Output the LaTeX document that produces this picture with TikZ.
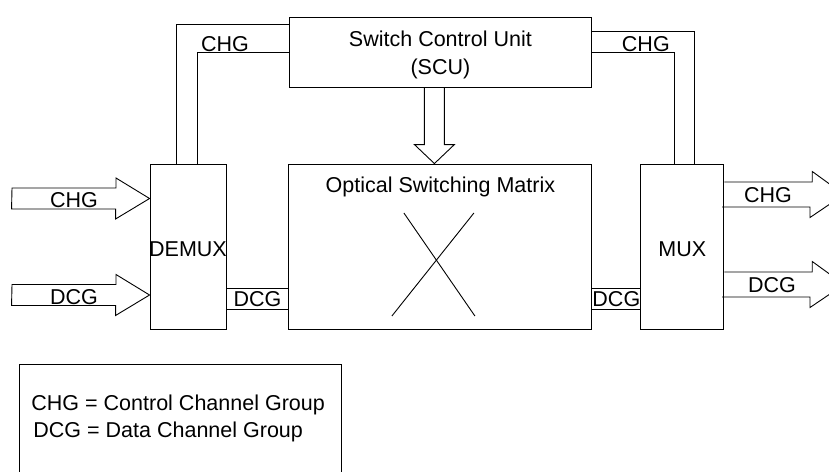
\documentclass[tikz,border=0pt]{standalone}
\usepackage{fontspec}
\setmainfont{Liberation Sans}
\usepackage{tikz}
\usetikzlibrary{positioning,calc}

\begin{document}
\begin{tikzpicture}[
  x=1pt, y=-1pt, line width=0.9pt,
  box/.style={draw, inner sep=0pt, minimum height=165pt, align=center, font=\fontsize{21.5}{28}\selectfont},
  lbl/.style={inner sep=0pt, align=center, font=\fontsize{21.5}{28}\selectfont},
]
  \useasboundingbox (0,0) rectangle (829,471);
  \clip (0,0) rectangle (829,471);
  \node[box, minimum width=76pt, label={[lbl, yshift=-3pt]center:DEMUX}] (demux) at (188,246.5) {};
  \node[box, minimum width=303pt, right=62pt of demux] (osm) {};
  \node[box, minimum width=83pt, right=48pt of osm, label={[lbl, yshift=-3pt]center:MUX}] (mux) {};
  \node[box, minimum width=302pt, minimum height=70pt, above=76pt of osm,
        label={[lbl, yshift=-3pt]center:Switch Control Unit\\(SCU)}] (scu) {};
  \node[lbl, below=13pt of osm.north] (osmtxt) {Optical Switching Matrix};
  \draw ($(osm.center)+(-36.5,-33.5)$) -- ($(osm.center)+(34.5,69.5)$);
  \draw ($(osm.center)+(33.5,-33.5)$) -- ($(osm.center)+(-48.5,69.5)$);

  \draw (scu.west) -| ($(demux.north west)+(48,0)$);
  \draw ($(scu.west)+(0,-28)$) -| ($(demux.north west)+(27,0)$);
  \draw (scu.east) -| ($(mux.north west)+(34,0)$);
  \draw ($(scu.east)+(0,-21)$) -| ($(mux.north west)+(54,0)$);
  \node[lbl, anchor=base] (chgl) at ($(scu.west)+(-64,-1)$) {CHG};
  \node[lbl, anchor=base] (chgr) at ($(scu.east)+(54,-1)$) {CHG};

  \coordinate (ctl) at ($(scu.south)+(-6,0)$);
  \draw (ctl) ++(-10,0) -- ++(0,57) -- ++(-10,0) -- (ctl |- osm.north) -- ++(20,-19) -- ++(-10,0) -- ++(0,-57);

  \coordinate (chgin) at (12,198.5);
  \coordinate (dcgin) at (12,295);
  \draw (chgin) ++(0,-10.5) -- ++(104,0) -- ++(0,-10) -- (demux.west |- chgin) -- ++(-34,20.5) -- ++(0,-10) -- ++(-104,0) -- cycle;
  \draw (dcgin) ++(0,-10.5) -- ++(104,0) -- ++(0,-10) -- (demux.west |- dcgin) -- ++(-34,20.5) -- ++(0,-10) -- ++(-104,0) -- cycle;
  \node[lbl] (chgintxt) at (74,200) {CHG};
  \node[lbl] (dcgintxt) at (74,297) {DCG};

  \coordinate (chgout) at (844,194.5);
  \coordinate (dcgout) at (844,284.5);
  \draw (mux.east |- chgout) ++(0,-12.5) -- ++(88,0) -- ++(0,-10.5) -- (chgout) -- ++(-34,23) -- ++(0,-10.5) -- ++(-88,0);
  \draw (mux.east |- dcgout) ++(0,-12.5) -- ++(88,0) -- ++(0,-10.5) -- (dcgout) -- ++(-34,23) -- ++(0,-10.5) -- ++(-88,0);
  \node[lbl] (chgouttxt) at (768,195.5) {CHG};
  \node[lbl] (dcgouttxt) at (772,285) {DCG};

  \draw ($(demux.south east)+(0,-41)$) -- ($(osm.south west)+(0,-41)$);
  \draw ($(demux.south east)+(0,-20)$) -- ($(osm.south west)+(0,-20)$);
  \draw ($(osm.south east)+(0,-41)$) -- ($(mux.south west)+(0,-41)$);
  \draw ($(osm.south east)+(0,-20)$) -- ($(mux.south west)+(0,-20)$);
  \node[lbl] (dcgl) at ($(demux.south east)!0.5!(osm.south west)+(0,-30)$) {DCG};
  \node[lbl] (dcgr) at ($(osm.south east)!0.5!(mux.south west)+(0,-30)$) {DCG};

  \node[draw, inner sep=0pt, minimum width=322pt, minimum height=120pt, anchor=north west] (legend) at (19,364) {};
  \node[lbl, anchor=base west] (chgkey) at (31,410) {CHG = Control Channel Group};
  \node[lbl, anchor=base west] (dcgkey) at (33,437) {DCG = Data Channel Group};
\end{tikzpicture}
\end{document}
